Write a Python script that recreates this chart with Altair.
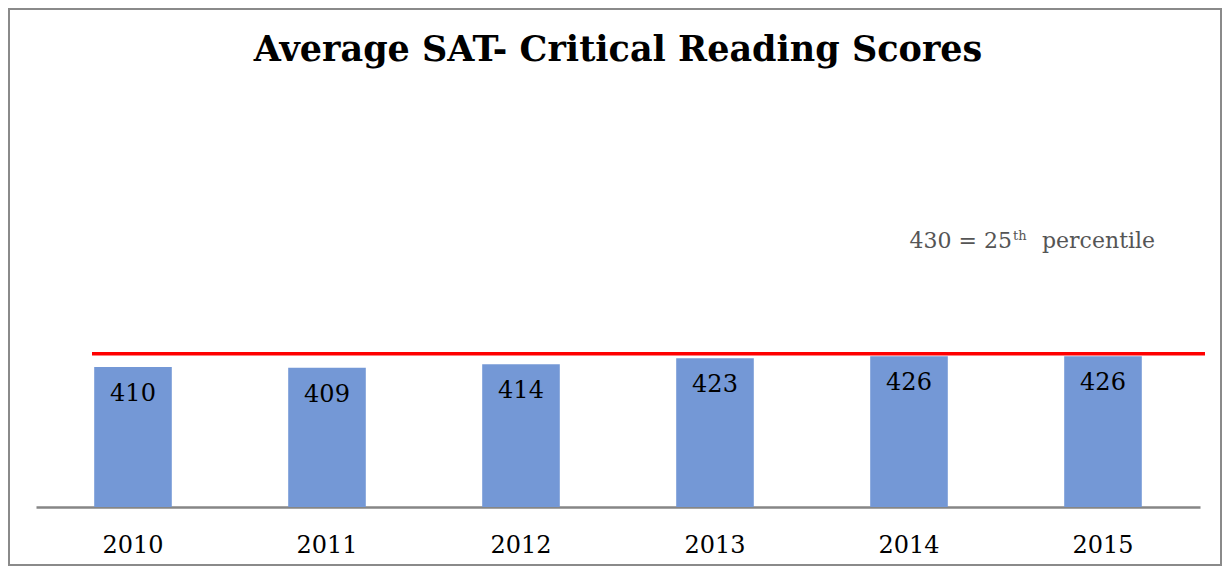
import altair as alt
import pandas as pd

years = ["2010", "2011", "2012", "2013", "2014", "2015"]
scores = [410, 409, 414, 423, 426, 426]
percentile_25 = 430
title_text = "Average SAT- Critical Reading Scores"

df = pd.DataFrame({"year": years, "score": scores})

W, H = 1164, 400
PAD = {"left": 28, "top": 99, "right": 22, "bottom": 59}
SERIF = "DejaVu Serif"

x_enc = alt.X("year:N", sort=years, title=None,
              scale=alt.Scale(paddingInner=0.6, paddingOuter=0.3),
              axis=alt.Axis(labelAngle=0, ticks=False, domainColor="#868686", domainWidth=2.5,
                            labelFont=SERIF, labelFontSize=24, labelColor="#000000",
                            labelPadding=26, grid=False))
y_scale = alt.Scale(domain=[200, 800], zero=False, nice=False)

base = alt.Chart(df)

bars = base.mark_bar(color="#7498D6").encode(
    x=x_enc,
    y=alt.Y("score:Q", scale=y_scale, axis=None),
    y2=alt.datum(200),
)

labels = base.mark_text(font=SERIF, fontSize=24, color="#000000", baseline="middle", dy=27).encode(
    x=alt.X("year:N", sort=years),
    y=alt.Y("score:Q", scale=y_scale),
    text=alt.Text("score:Q"),
)

ref = pd.DataFrame({"v": [percentile_25]})
rule = alt.Chart(ref).mark_rule(color="#FF0000", strokeWidth=3.5).encode(
    y=alt.Y("v:Q", scale=y_scale),
    x=alt.value(56),
    x2=alt.value(1169),
)

ann_main = alt.Chart(ref).mark_text(font=SERIF, fontSize=22, color="#555555", align="right",
                                     baseline="alphabetic").encode(
    x=alt.value(976), y=alt.value(141), text=alt.value(f"{percentile_25} = 25"))
ann_sup = alt.Chart(ref).mark_text(font=SERIF, fontSize=13, color="#555555", align="left",
                                    baseline="alphabetic").encode(
    x=alt.value(977), y=alt.value(133), text=alt.value("th"))
ann_tail = alt.Chart(ref).mark_text(font=SERIF, fontSize=22, color="#555555", align="left",
                                     baseline="alphabetic").encode(
    x=alt.value(1006), y=alt.value(141), text=alt.value("percentile"))

title_mark = alt.Chart(ref).mark_text(font=SERIF, fontSize=35, fontWeight="bold", color="#000000",
                                       align="center", baseline="alphabetic").encode(
    x=alt.value(W / 2), y=alt.value(-46), text=alt.value(title_text))

frame = alt.Chart(ref).mark_rect(fill="transparent", stroke="#8a8a8a", strokeWidth=2).encode(
    x=alt.value(-PAD["left"] + 1), x2=alt.value(W + PAD["right"] - 1),
    y=alt.value(-PAD["top"] + 1), y2=alt.value(H + PAD["bottom"] - 1),
)

chart = alt.layer(frame, bars, labels, rule, ann_main, ann_sup, ann_tail, title_mark).properties(
    width=W, height=H,
    autosize=alt.AutoSizeParams(type="none"),
    padding=PAD,
    background="white",
).configure_view(strokeWidth=0)

chart.save("out.html", embed_options={"renderer": "svg", "actions": False})
